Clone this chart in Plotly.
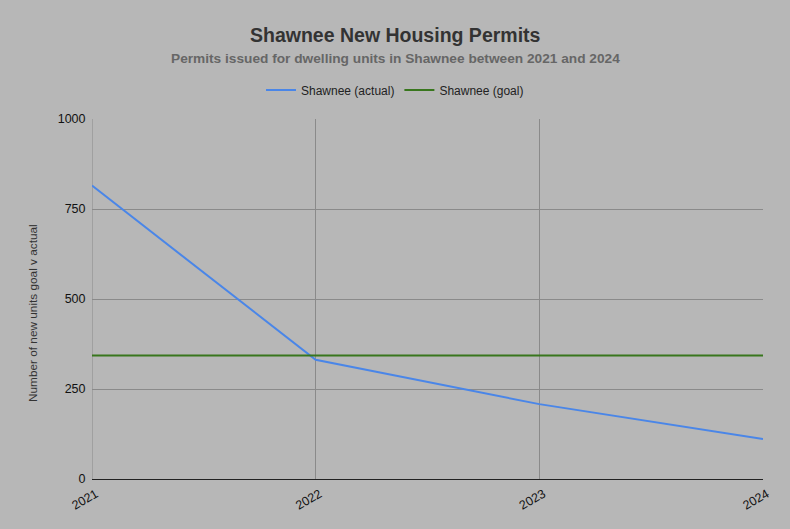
import plotly.graph_objects as go

years = [2021, 2022, 2023, 2024]
actual = [815, 331, 208, 111]
goal = [343, 343, 343, 343]
y_ticks = [0, 250, 500, 750, 1000]

title_text = "Shawnee New Housing Permits"
subtitle_text = "Permits issued for dwelling units in Shawnee between 2021 and 2024"
y_title = "Number of new units goal v actual"

BG = "#b7b7b7"

fig = go.Figure()
fig.add_trace(go.Scatter(x=years, y=actual, mode="lines", name="Shawnee (actual)",
                         line=dict(color="#4a86e8", width=2)))
fig.add_trace(go.Scatter(x=years, y=goal, mode="lines", name="Shawnee (goal)",
                         line=dict(color="#38761d", width=2)))

cx = (395 - 92) / 671

fig.update_layout(
    width=790, height=529,
    paper_bgcolor=BG, plot_bgcolor=BG,
    font=dict(family="Arial, Liberation Sans, sans-serif", color="#222"),
    margin=dict(l=92, r=27, t=119, b=50, autoexpand=False),
    legend=dict(orientation="h", x=cx, xanchor="center",
                y=1.0806, yanchor="middle",
                font=dict(size=12, color="#222"), bgcolor="rgba(0,0,0,0)"),
    showlegend=True,
)
fig.add_annotation(text="<b>" + title_text + "</b>", xref="paper", yref="paper",
                   x=cx, y=1.233, xanchor="center", yanchor="middle", showarrow=False,
                   font=dict(size=19.5, color="#333"))
fig.add_annotation(text="<b>" + subtitle_text + "</b>", xref="paper", yref="paper",
                   x=cx, y=1.1667, xanchor="center", yanchor="middle", showarrow=False,
                   font=dict(size=13.7, color="#666"))
fig.add_annotation(text=y_title, xref="paper", yref="paper", textangle=-90,
                   x=(33 - 92) / 671, y=(479 - 313) / 360, xanchor="center", yanchor="middle",
                   showarrow=False, font=dict(size=11.8, color="#333"))
fig.update_xaxes(range=[2021, 2024], tickvals=years, ticktext=[str(y) for y in years],
                 tickangle=-30, showgrid=True, gridcolor="#8a8a8a", gridwidth=1,
                 showline=True, linecolor="#222", linewidth=1, zeroline=False,
                 ticks="outside", ticklen=2, tickcolor=BG, ticklabelshift=4,
                 tickfont=dict(size=12.5, color="#111"), mirror=False)
fig.update_yaxes(range=[0, 1000], tickvals=y_ticks, showgrid=True, gridcolor="#8a8a8a",
                 gridwidth=1, zeroline=False, tickfont=dict(size=12.5, color="#111"),
                 ticks="outside", ticklen=3, tickcolor=BG,
                 showline=False)
fig.add_shape(type="line", xref="x", yref="paper", x0=2021, x1=2021, y0=0, y1=1,
              line=dict(color="#8a8a8a", width=1), layer="below")

fig.write_html("out.html", config={"displayModeBar": False},
               post_script="document.body.style.margin='0';")
